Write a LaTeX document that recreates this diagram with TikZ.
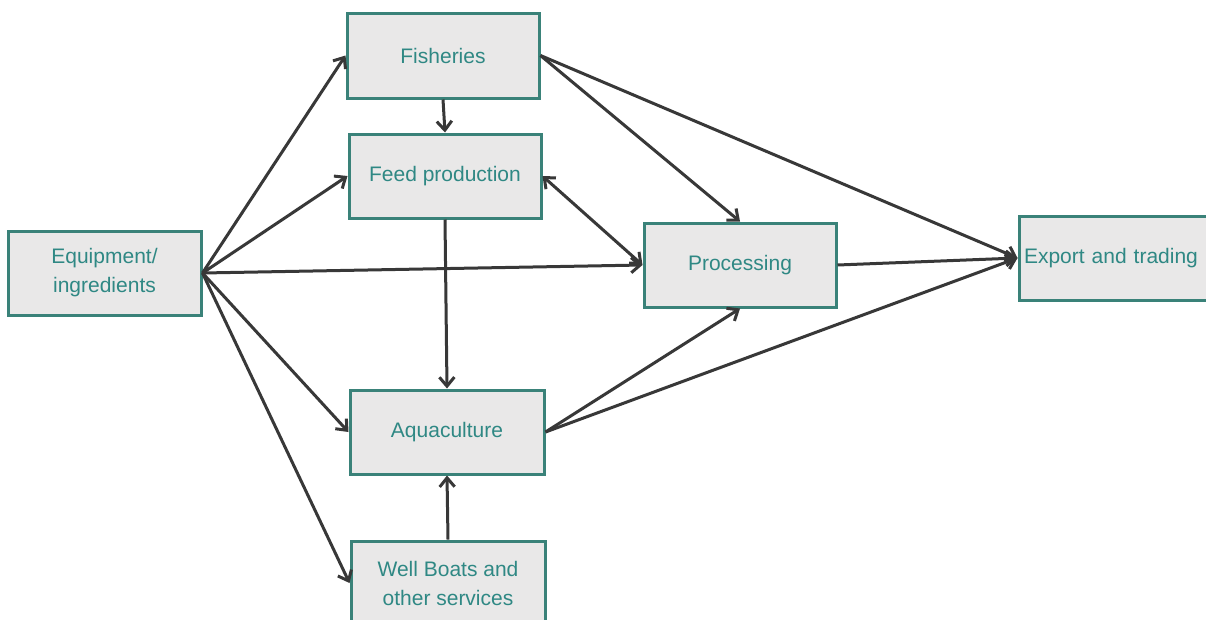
\documentclass[tikz,border=0pt]{standalone}
\usepackage{fontspec}
\setmainfont{Liberation Sans}
\usetikzlibrary{arrows.meta}
\definecolor{boxborder}{HTML}{3A8279}
\definecolor{boxfill}{HTML}{E9E8E8}
\definecolor{boxtext}{HTML}{2F8884}
\definecolor{arrowcol}{HTML}{383838}
\begin{document}
\begin{tikzpicture}[x=1pt,y=-1pt,
  box/.style={draw=boxborder,line width=3pt,fill=boxfill,text=boxtext,
    font=\fontsize{21}{29}\selectfont,align=center,inner sep=0pt},
  conn/.style={draw=arrowcol,line width=3pt,-{Straight Barb[length=9pt,width=15pt,line width=3pt]}},
  dconn/.style={draw=arrowcol,line width=3pt,{Straight Barb[length=9pt,width=15pt,line width=3pt]}-{Straight Barb[length=9pt,width=15pt,line width=3pt]}}]
\useasboundingbox (0,0) rectangle (1206,619);
\clip (0,0) rectangle (1206,619);
\fill[white] (0,0) rectangle (1206,619);
\node[box,minimum width=192pt,minimum height=85pt] (fish) at (443,55.5) {Fisheries};
\node[box,minimum width=192pt,minimum height=84pt] (feed) at (445,176) {Feed production};
\node[box,minimum width=193pt,minimum height=84pt] (equip) at (104.5,273) {Equipment/\\ingredients};
\node[box,minimum width=192pt,minimum height=84pt] (proc) at (740,265) {Processing};
\node[box,minimum width=196pt,minimum height=84pt,text width=190pt,align=left] (exp) at (1117,258) {\hspace*{2pt}Export and trading};
\node[box,minimum width=194pt,minimum height=84pt] (aqua) at (447,432) {Aquaculture};
\node[box,minimum width=194pt,minimum height=84pt] (well) at (448,583) {Well Boats and\\other services};
\draw[conn] (equip.east) -- (fish.west);
\draw[conn] (equip.east) -- (feed.west);
\draw[conn] (equip.east) -- (proc.west);
\draw[conn] (equip.east) -- (aqua.west);
\draw[conn] (equip.east) -- (well.west);
\draw[conn] (fish.south) -- (feed.north);
\draw[conn] (fish.east) -- (proc.north);
\draw[conn] (fish.east) -- (exp.west);
\draw[dconn] (feed.east) -- (proc.west);
\draw[conn] (feed.south) -- (aqua.north);
\draw[conn] (proc.east) -- (exp.west);
\draw[conn] (aqua.east) -- (proc.south);
\draw[conn] (aqua.east) -- (exp.west);
\draw[conn] (well.north) -- (aqua.south);
\end{tikzpicture}
\end{document}
